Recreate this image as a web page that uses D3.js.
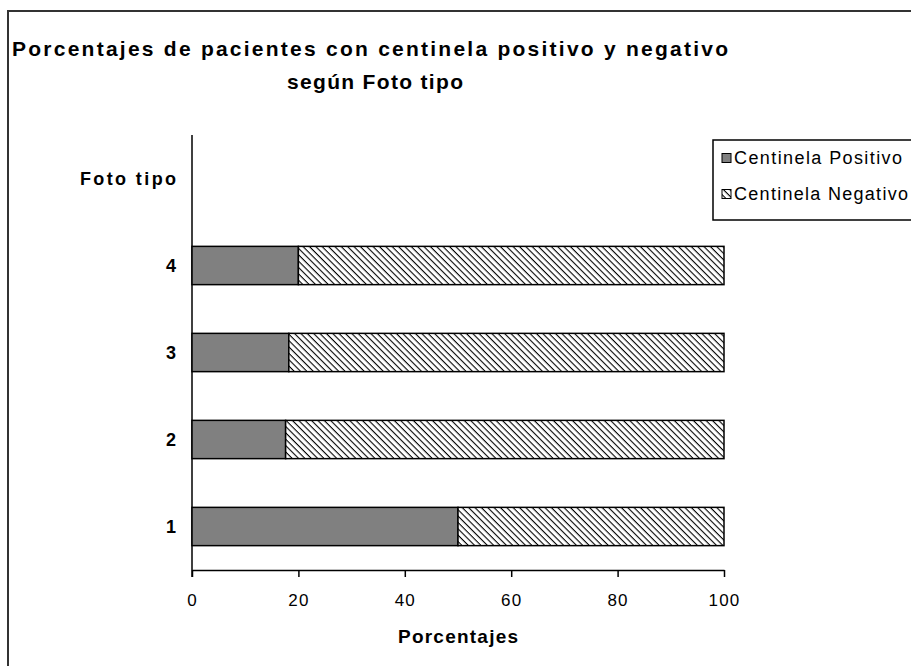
<!DOCTYPE html>
<html>
<head>
<meta charset="utf-8">
<script src="https://cdn.jsdelivr.net/npm/d3@7"></script>
<style>
  html, body { margin: 0; padding: 0; background: #fff; }
  svg { display: block; }
</style>
</head>
<body>
<svg id="chart" width="911" height="666"></svg>
<script>
// Categories (phototype) and percentage of patients per sentinel result
const categories = ["4", "3", "2", "1"];
const positivo = [20, 18.2, 17.6, 50];
const negativo = [80, 81.8, 82.4, 50];
const seriesNames = ["Centinela Positivo", "Centinela Negativo"];
const xTicks = [0, 20, 40, 60, 80, 100];
const yAxisTitle = "Foto tipo";

const svg = d3.select("#chart");
const font = "'Liberation Sans', Arial, sans-serif";

// hatch pattern for the negative series (lines running top-left to bottom-right)
const defs = svg.append("defs");
const pat = defs.append("pattern")
  .attr("id", "hatch")
  .attr("patternUnits", "userSpaceOnUse")
  .attr("width", 4.5).attr("height", 4.5)
  .attr("patternTransform", "rotate(45)");
pat.append("rect").attr("width", 4.5).attr("height", 4.5).attr("fill", "#fff");
pat.append("line").attr("x1", 0).attr("y1", 0).attr("x2", 4.5).attr("y2", 0)
  .attr("stroke", "#000").attr("stroke-width", 2.2);

// outer chart frame
svg.append("rect")
  .attr("x", 8).attr("y", 11).attr("width", 930).attr("height", 700)
  .attr("fill", "none").attr("stroke", "#333").attr("stroke-width", 2);

// title
svg.append("text")
  .attr("x", 12).attr("y", 56)
  .attr("font-family", font).attr("font-weight", "bold").attr("font-size", 21)
  .attr("textLength", 716).attr("lengthAdjust", "spacing")
  .text("Porcentajes de pacientes con centinela positivo y negativo");
svg.append("text")
  .attr("x", 287).attr("y", 89)
  .attr("font-family", font).attr("font-weight", "bold").attr("font-size", 21)
  .attr("textLength", 176).attr("lengthAdjust", "spacing")
  .text("según Foto tipo");

// scales
const x = d3.scaleLinear().domain([0, 100]).range([192, 724]);
const y = d3.scaleBand()
  .domain([yAxisTitle].concat(categories))
  .range([135, 570])
  .paddingInner(0.56).paddingOuter(0.28);

// x axis
const xAxis = svg.append("g")
  .attr("transform", "translate(0,570)")
  .call(d3.axisBottom(x).tickValues(xTicks).tickSize(7).tickSizeOuter(0).tickPadding(17));
xAxis.select(".domain").attr("stroke", "#000").attr("stroke-width", 1.5);
xAxis.selectAll(".tick line").attr("stroke", "#000").attr("stroke-width", 1.5);
xAxis.selectAll(".tick text")
  .attr("font-family", font).attr("font-size", 17).attr("fill", "#000")
  .attr("letter-spacing", 1.2);

// y axis line
svg.append("line")
  .attr("x1", x(0)).attr("x2", x(0)).attr("y1", 135).attr("y2", 577)
  .attr("stroke", "#000").attr("stroke-width", 1.5);

// y labels (category names plus axis title on top)
svg.append("g").selectAll("text")
  .data(y.domain())
  .join("text")
  .attr("x", 176)
  .attr("y", d => y(d) + y.bandwidth() / 2)
  .attr("dy", "0.35em")
  .attr("text-anchor", "end")
  .attr("font-family", font).attr("font-weight", "bold").attr("font-size", 18)
  .each(function (d) {
    if (d === yAxisTitle) d3.select(this).attr("textLength", 96).attr("lengthAdjust", "spacing");
  })
  .text(d => d);

// stacked bars
const rows = categories.map((c, i) => ({ c, pos: positivo[i], neg: negativo[i] }));
const bars = svg.append("g");
bars.selectAll("rect.pos")
  .data(rows).join("rect")
  .attr("class", "pos")
  .attr("x", x(0))
  .attr("y", d => y(d.c))
  .attr("width", d => x(d.pos) - x(0))
  .attr("height", y.bandwidth())
  .attr("fill", "#808080").attr("stroke", "#000").attr("stroke-width", 1.5);
bars.selectAll("rect.neg")
  .data(rows).join("rect")
  .attr("class", "neg")
  .attr("x", d => x(d.pos))
  .attr("y", d => y(d.c))
  .attr("width", d => x(d.pos + d.neg) - x(d.pos))
  .attr("height", y.bandwidth())
  .attr("fill", "url(#hatch)").attr("stroke", "#000").attr("stroke-width", 1.5);

// x axis title
svg.append("text")
  .attr("x", 458).attr("y", 643)
  .attr("text-anchor", "middle")
  .attr("font-family", font).attr("font-weight", "bold").attr("font-size", 19)
  .attr("textLength", 120).attr("lengthAdjust", "spacing")
  .text("Porcentajes");

// legend
const lg = svg.append("g");
lg.append("rect")
  .attr("x", 713).attr("y", 140).attr("width", 230).attr("height", 80)
  .attr("fill", "#fff").attr("stroke", "#000").attr("stroke-width", 1.5);
const fills = ["#808080", "url(#hatch)"];
const legendWidths = [169, 175];
seriesNames.forEach((name, i) => {
  const cy = 158 + i * 36;
  lg.append("rect")
    .attr("x", 722).attr("y", cy - 4.5).attr("width", 9).attr("height", 9)
    .attr("fill", fills[i]).attr("stroke", "#000").attr("stroke-width", 1);
  lg.append("text")
    .attr("x", 734).attr("y", cy).attr("dy", "0.35em")
    .attr("font-family", font).attr("font-size", 18)
    .attr("textLength", legendWidths[i] - 1).attr("lengthAdjust", "spacing")
    .text(name);
});
</script>
</body>
</html>
